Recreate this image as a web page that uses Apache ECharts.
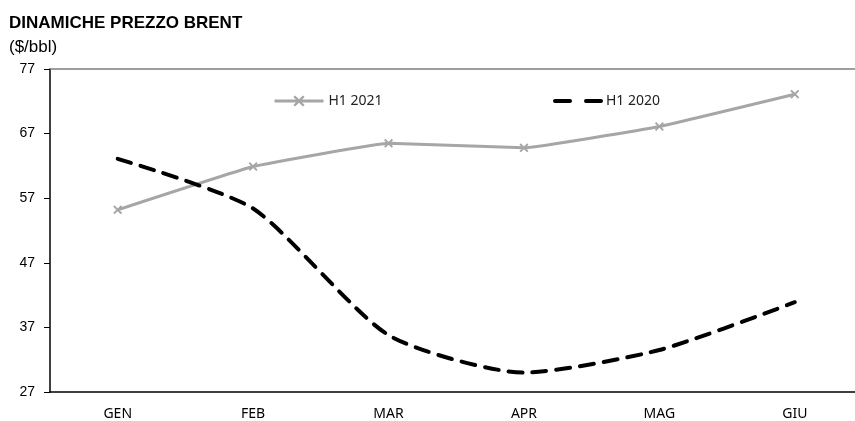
<!DOCTYPE html>
<html>
<head>
<meta charset="utf-8">
<script src="https://cdn.jsdelivr.net/npm/echarts@6/dist/echarts.min.js"></script>
<style>
  html, body { margin: 0; padding: 0; background: #fff; overflow: hidden; }
  /* the plot runs a little past the right edge of the window */
  #chart { width: 870px; height: 421px; }
</style>
</head>
<body>
<div id="chart"></div>
<script>
// Brent monthly prices, first half of the year ($/bbl)
const months = ['GEN', 'FEB', 'MAR', 'APR', 'MAG', 'GIU'];
const h1_2021 = [55.2, 61.9, 65.5, 64.8, 68.1, 73.1];
const h1_2020 = [63.1, 55.4, 35.8, 30.0, 33.5, 40.9];
const yTicks = [27, 37, 47, 57, 67, 77];

const crossPath = 'path://M0,1.5L1.5,0L5,3.5L8.5,0L10,1.5L6.5,5L10,8.5L8.5,10L5,6.5L1.5,10L0,8.5L3.5,5Z';
const grey = '#a6a6a6';

const chart = echarts.init(document.getElementById('chart'), null, { renderer: 'canvas' });
chart.setOption({
  animation: false,
  backgroundColor: '#ffffff',
  title: [
    {
      text: 'DINAMICHE PREZZO BRENT',
      left: 9, top: 15, padding: 0,
      textStyle: { fontFamily: 'Liberation Sans', fontSize: 17, fontWeight: 'bold', color: '#000' }
    },
    {
      text: '($/bbl)',
      left: 9, top: 39, padding: 0,
      textStyle: { fontFamily: 'Liberation Sans', fontSize: 17, fontWeight: 'normal', color: '#000' }
    }
  ],
  legend: [
    {
      left: 273, top: 94, padding: 0,
      itemWidth: 49, itemHeight: 14, itemGap: 5,
      textStyle: { fontFamily: 'Noto Sans', fontSize: 14, color: '#222' },
      data: [{ name: 'H1 2021', lineStyle: { width: 3, color: grey } }]
    },
    {
      left: 553, top: 94, padding: 0,
      itemWidth: 46, itemHeight: 14,
      textStyle: { fontFamily: 'Noto Sans', fontSize: 14, color: '#222' },
      data: [{
        name: 'H1 2020',
        itemStyle: { opacity: 0 },
        lineStyle: { width: 4, color: '#000', type: [15, 16], cap: 'round' }
      }]
    }
  ],
  grid: { left: 50, top: 69, right: 7.5, bottom: 29 },
  xAxis: [
    {
      type: 'category',
      data: months,
      boundaryGap: true,
      axisLine: { lineStyle: { color: '#000', width: 1.5 } },
      axisTick: { show: false },
      axisLabel: { fontFamily: 'Noto Sans', fontSize: 14, color: '#000', margin: 15 }
    },
    {
      type: 'category',
      data: months,
      position: 'top',
      boundaryGap: true,
      axisLine: { lineStyle: { color: '#7f7f7f', width: 1.5 } },
      axisTick: { show: false },
      axisLabel: { show: false }
    }
  ],
  yAxis: {
    type: 'value',
    min: yTicks[0], max: yTicks[yTicks.length - 1], interval: 10,
    axisLine: { show: true, lineStyle: { color: '#000', width: 1.5 } },
    axisTick: { show: true, length: 6, lineStyle: { color: '#000' } },
    splitLine: { show: false },
    axisLabel: { fontFamily: 'Liberation Sans', fontSize: 14, color: '#000', margin: 15 }
  },
  series: [
    {
      name: 'H1 2021',
      type: 'line',
      data: h1_2021,
      smooth: 0.08,
      symbol: crossPath,
      symbolSize: 9,
      showAllSymbol: true,
      lineStyle: { color: grey, width: 3 },
      itemStyle: { color: grey }
    },
    {
      name: 'H1 2020',
      type: 'line',
      data: h1_2020,
      smooth: 0.22,
      symbol: 'none',
      lineStyle: { color: '#000', width: 4, type: [14, 10], cap: 'round' },
      itemStyle: { color: '#000' }
    }
  ]
});
</script>
</body>
</html>
